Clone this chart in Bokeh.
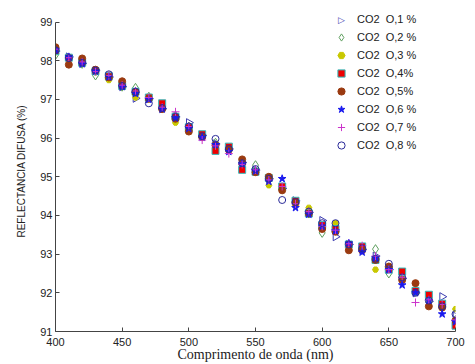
import math
from bokeh.plotting import figure
from bokeh.models import Legend, LegendItem, Range1d, FixedTicker, Label
from bokeh.embed import file_html
from bokeh.resources import INLINE

wavelength = list(range(400, 701, 10))

co2_01 = [98.25, 98.10, 97.93, 97.75, 97.58, 97.33, 97.03, 97.02, 96.76, 96.55, 96.40, 96.07, 95.85, 95.72, 95.37, 95.17,
          94.95, 94.70, 94.38, 94.08, 93.87, 93.45, 93.25, 93.12, 92.95, 92.60, 92.37, 92.00, 91.78, 91.90, 91.40]
co2_02 = [98.15, 98.08, 97.92, 97.62, 97.60, 97.33, 97.30, 97.07, 96.80, 96.58, 96.30, 96.05, 95.88, 95.73, 95.38, 95.30,
          94.95, 94.68, 94.35, 94.05, 93.55, 93.62, 93.22, 93.15, 93.13, 92.50, 92.40, 92.05, 91.75, 91.62, 91.30]
co2_03 = [98.22, 98.05, 97.95, 97.70, 97.50, 97.35, 97.05, 97.00, 96.77, 96.40, 96.25, 96.03, 95.83, 95.68, 95.30, 95.12,
          94.78, 94.70, 94.25, 94.20, 93.72, 93.80, 93.20, 93.10, 92.60, 92.65, 92.35, 92.05, 91.85, 91.62, 91.58]
co2_04 = [98.25, 98.08, 97.95, 97.73, 97.60, 97.35, 97.20, 97.05, 96.90, 96.55, 96.28, 96.10, 95.67, 95.78, 95.18, 95.13,
          94.97, 94.75, 94.38, 94.05, 93.75, 93.65, 93.25, 93.20, 92.85, 92.60, 92.55, 92.05, 91.95, 91.72, 91.15]
co2_05 = [98.35, 97.90, 98.06, 97.77, 97.57, 97.47, 97.18, 97.02, 96.75, 96.50, 96.17, 96.03, 95.82, 95.70, 95.45, 95.12,
          95.00, 94.65, 94.33, 94.05, 93.65, 93.58, 93.10, 93.10, 92.85, 92.68, 92.33, 92.25, 91.65, 91.62, 91.28]
co2_06 = [98.28, 98.10, 97.92, 97.73, 97.58, 97.33, 97.15, 97.00, 96.75, 96.52, 96.25, 96.02, 95.83, 95.65, 95.33, 95.15,
          94.88, 94.95, 94.20, 94.03, 93.72, 93.60, 93.28, 93.05, 92.90, 92.60, 92.20, 92.00, 91.80, 91.45, 91.25]
co2_07 = [98.30, 98.08, 97.97, 97.72, 97.62, 97.37, 97.22, 97.05, 96.80, 96.68, 96.30, 95.95, 95.80, 95.60, 95.32, 95.18,
          94.92, 94.75, 94.30, 94.10, 93.72, 93.62, 93.27, 93.22, 92.95, 92.60, 92.40, 91.75, 91.82, 91.70, 91.30]
co2_08 = [98.27, 98.07, 97.95, 97.75, 97.65, 97.35, 97.20, 96.90, 96.78, 96.55, 96.30, 96.05, 95.98, 95.72, 95.35, 95.20,
          94.95, 94.40, 94.35, 94.10, 93.80, 93.80, 93.25, 93.15, 92.88, 92.75, 92.40, 92.00, 91.80, 91.65, 91.45]

labels = ["CO2\u00a0\u00a0O,1\u00a0%", "CO2\u00a0\u00a0O,2\u00a0%", "CO2\u00a0\u00a0O,3\u00a0%", "CO2\u00a0\u00a0O,4%",
          "CO2\u00a0\u00a0O,5%", "CO2\u00a0\u00a0O,6\u00a0%", "CO2\u00a0\u00a0O,7\u00a0%", "CO2\u00a0\u00a0O,8\u00a0%"]
x_ticks = [400, 450, 500, 550, 600, 650, 700]
y_ticks = [91, 92, 93, 94, 95, 96, 97, 98, 99]

p = figure(width=467, height=364, output_backend="svg", toolbar_location=None,
           x_range=Range1d(400, 700), y_range=Range1d(91, 99.3),
           min_border_left=55, min_border_right=12, min_border_top=10, min_border_bottom=27)
p.outline_line_color = None
p.grid.grid_line_color = None
p.background_fill_color = "white"
p.border_fill_color = "white"

for ax in (p.xaxis[0], p.yaxis[0]):
    ax.axis_line_color = "#444444"
    ax.major_tick_line_color = "#444444"
    ax.major_tick_in = 4
    ax.major_tick_out = 0
    ax.minor_tick_line_color = None
    ax.major_label_text_font = "Liberation Sans"
    ax.major_label_text_font_size = "11px"
    ax.major_label_text_color = "#222222"
    ax.axis_label_text_font_style = "normal"
    ax.axis_label_text_color = "#222222"

p.yaxis.bounds = (91, 99)
p.xaxis.ticker = FixedTicker(ticks=x_ticks)
p.yaxis.ticker = FixedTicker(ticks=y_ticks)
p.xaxis.axis_label = "Comprimento de onda (nm)"
p.xaxis.axis_label_text_font = "Liberation Serif"
p.xaxis.axis_label_text_font_size = "14px"
p.xaxis.major_label_standoff = 6
p.xaxis.axis_label_standoff = -2
p.yaxis.axis_label = "REFLECTANCIA DIFUSA (%)"
p.yaxis.axis_label_text_font = "Liberation Sans"
p.yaxis.axis_label_text_font_size = "10px"
p.yaxis.major_label_standoff = 3
p.yaxis.axis_label_standoff = 10

r1 = p.scatter(wavelength, co2_01, marker="triangle", size=8, angle=-math.pi / 2,
               fill_color=None, line_color="#3b3bb0", line_width=1)
r2 = p.scatter(wavelength, co2_02, marker="diamond", size=9,
               fill_color=None, line_color="#5f9f5f", line_width=1)
r3 = p.scatter(wavelength, co2_03, marker="hex", size=6,
               fill_color="#c8c800", line_color="#c8c800", line_width=1)
r4 = p.scatter(wavelength, co2_04, marker="square", size=7,
               fill_color="#ee0000", line_color="#33bbbb", line_width=1)
r5 = p.scatter(wavelength, co2_05, marker="circle", size=7,
               fill_color="#9a3a10", line_color="#9a3a10", line_width=1)
r6 = p.scatter(wavelength, co2_06, marker="star", size=8,
               fill_color="#1a1aee", line_color="#1a1aee", line_width=1)
r7 = p.scatter(wavelength, co2_07, marker="cross", size=8,
               fill_color=None, line_color="#cc33cc", line_width=1)
r8 = p.scatter(wavelength, co2_08, marker="circle", size=7,
               fill_color=None, line_color="#2a2a99", line_width=1)

# legend stand-in for the first entry (legend glyphs cannot be rotated)
r1_key = p.scatter([], [], marker="triangle", size=1, fill_alpha=0, line_alpha=0)

renderers = [r1_key, r2, r3, r4, r5, r6, r7, r8]
legend = Legend(items=[LegendItem(label=lab, renderers=[r]) for lab, r in zip(labels, renderers)],
                location=(277, 177), padding=0, margin=0, spacing=0,
                glyph_height=18, glyph_width=18, label_height=18, label_standoff=7,
                label_text_font="Liberation Sans", label_text_font_size="11px",
                label_text_color="#222222",
                background_fill_alpha=0, border_line_color=None)
p.add_layout(legend, "center")
p.add_layout(Label(x=286, y=312, x_units="screen", y_units="screen", text="\u25b7",
                   text_font="DejaVu Sans", text_font_size="9px", text_color="#3b3bb0",
                   text_align="center", text_baseline="middle"))

open("out.html", "w").write(file_html(p, INLINE))
